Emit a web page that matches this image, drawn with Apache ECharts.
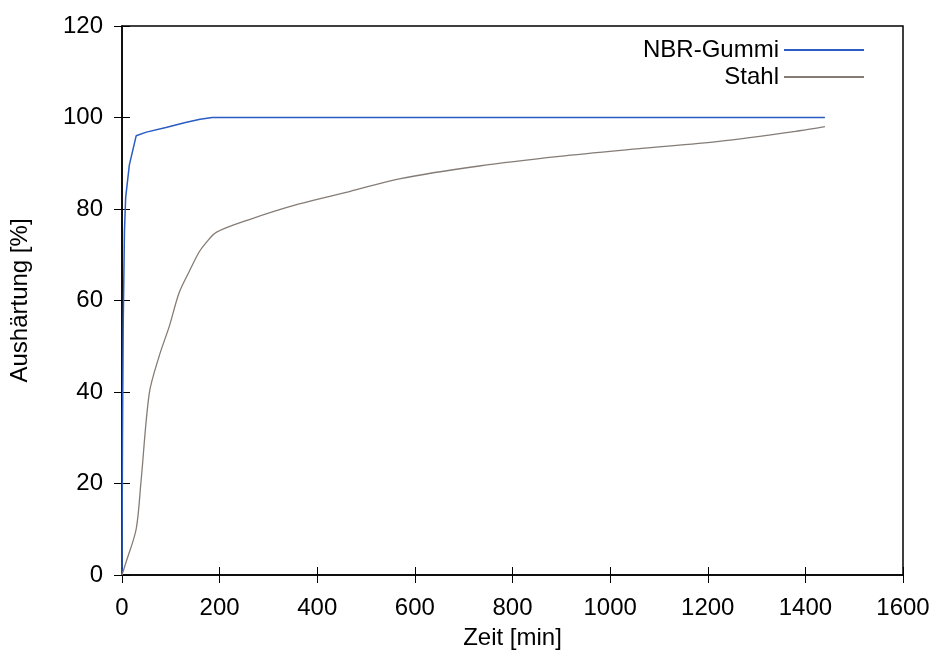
<!DOCTYPE html>
<html>
<head>
<meta charset="utf-8">
<script src="https://cdn.jsdelivr.net/npm/echarts@6/dist/echarts.min.js"></script>
<style>html,body{margin:0;padding:0;background:#fff}#c{width:936px;height:662px}</style>
</head>
<body>
<div id="c"></div>
<script>
const seriesNames = ['NBR-Gummi', 'Stahl'];
const nbrX = [0, 1, 2.5, 5, 7.5, 15, 29, 50, 90, 130, 160, 185, 1440];
const nbrY = [0, 30, 55, 75, 82.5, 89.6, 96, 96.8, 97.8, 98.9, 99.6, 100, 100];
const stahlX = [0, 8, 29, 39, 56, 76, 97, 117, 138, 158, 172, 193, 261, 363, 466, 568, 732, 896, 1060, 1223, 1388, 1440];
const stahlY = [0, 2.7, 10, 20.5, 39.8, 47.8, 54.4, 61.7, 66.4, 70.6, 72.6, 74.9, 77.7, 81.1, 83.8, 86.6, 89.4, 91.5, 93.2, 94.8, 97.1, 98];
const xTicks = [0, 200, 400, 600, 800, 1000, 1200, 1400, 1600];
const yTicks = [0, 20, 40, 60, 80, 100, 120];

const font = 'Liberation Sans, Arial, Helvetica, sans-serif';
const zip = (xs, ys) => xs.map((x, i) => [x, ys[i]]);

const chart = echarts.init(document.getElementById('c'));
const tickStyle = { show: true, inside: true, length: 8, lineStyle: { color: '#000', width: 1 } };
chart.setOption({
  animation: false,
  textStyle: { fontFamily: font },
  grid: { left: 122, right: 33, top: 26, bottom: 87, show: true, borderColor: '#000', borderWidth: 1.5 },
  legend: {
    orient: 'vertical', right: 67, top: 33, align: 'right',
    itemWidth: 80, itemHeight: 2, itemGap: 3,
    textStyle: { fontSize: 24, color: '#000', fontFamily: font },
    icon: 'rect',
    data: seriesNames
  },
  xAxis: [{
    type: 'value', min: xTicks[0], max: xTicks[xTicks.length - 1], interval: 200,
    name: 'Zeit [min]', nameLocation: 'middle', nameGap: 51,
    nameTextStyle: { fontSize: 24, color: '#000', fontFamily: font },
    axisLine: { show: true, lineStyle: { color: '#000', width: 1.5 } },
    axisTick: tickStyle, splitLine: { show: false },
    axisLabel: { fontSize: 24, color: '#000', margin: 21, fontFamily: font, formatter: v => String(v) }
  }, {
    type: 'value', position: 'top', min: xTicks[0], max: xTicks[xTicks.length - 1], interval: 200,
    axisLine: { show: false }, axisTick: tickStyle, axisLabel: { show: false }, splitLine: { show: false }
  }],
  yAxis: [{
    type: 'value', min: yTicks[0], max: yTicks[yTicks.length - 1], interval: 20,
    name: 'Aushärtung [%]', nameLocation: 'middle', nameGap: 90,
    nameTextStyle: { fontSize: 24, color: '#000', fontFamily: font },
    axisLine: { show: true, lineStyle: { color: '#000', width: 1.5 } },
    axisTick: tickStyle, splitLine: { show: false },
    axisLabel: { fontSize: 24, color: '#000', margin: 19, fontFamily: font }
  }, {
    type: 'value', position: 'right', min: yTicks[0], max: yTicks[yTicks.length - 1], interval: 20,
    axisLine: { show: false }, axisTick: tickStyle, axisLabel: { show: false }, splitLine: { show: false }
  }],
  series: [{
    name: seriesNames[0], type: 'line', showSymbol: false, symbol: 'none',
    data: zip(nbrX, nbrY), color: '#2a5cc4',
    lineStyle: { width: 1.5, color: '#2a5cc4' }
  }, {
    name: seriesNames[1], type: 'line', showSymbol: false, symbol: 'none',
    data: zip(stahlX, stahlY), color: '#857c76', smooth: 0.3,
    lineStyle: { width: 1.3, color: '#857c76' }
  }]
});
</script>
</body>
</html>
